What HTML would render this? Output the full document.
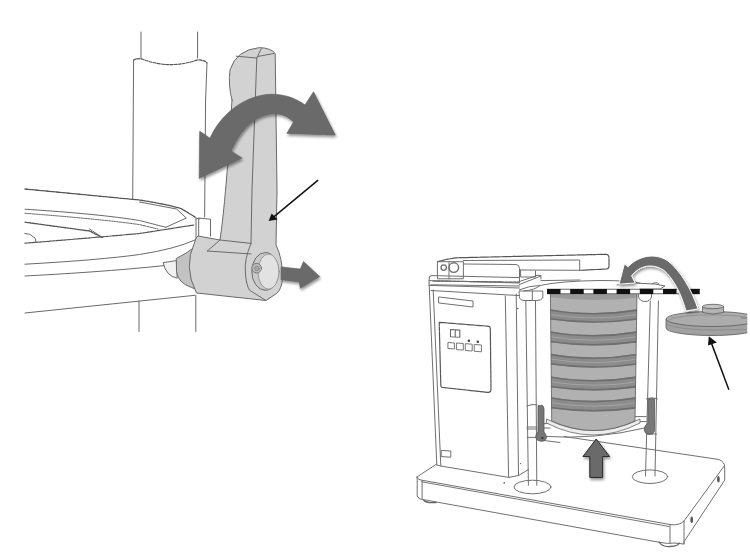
<!DOCTYPE html>
<html><head><meta charset="utf-8">
<style>
html,body{margin:0;padding:0;background:#fff;width:750px;height:557px;overflow:hidden;font-family:"Liberation Sans",sans-serif;}
svg{display:block}
</style></head><body>
<svg width="750" height="557" viewBox="0 0 750 557">
<defs>
<filter id="sh" x="-20%" y="-20%" width="150%" height="150%"><feGaussianBlur in="SourceAlpha" stdDeviation="1.5"/><feOffset dx="1" dy="1.5"/><feComponentTransfer><feFuncA type="linear" slope="0.45"/></feComponentTransfer><feMerge><feMergeNode/><feMergeNode in="SourceGraphic"/></feMerge></filter>
</defs>
<g fill="none" stroke="#6a6a6a" stroke-width="1" stroke-linejoin="round" stroke-linecap="round">
<!-- ===== LEFT DRAWING ===== -->
<path d="M141 32 V59 M197.6 32 V58"/>
<path d="M133.4 61 Q134 58.5 141 58.6 Q169 70 197.6 59.8 Q206 60.5 207 63" stroke="#555" stroke-width="1.1" stroke-dasharray="3 1.2"/>
<path d="M133.6 60 L132.7 199 M207 63 L205.6 100 L204.6 217"/>
<path d="M139 301 V331.5 M195.8 295.5 V331.5"/>
<path d="M25 189 L139.5 200 Q165 204 181 208.5 L196 217.6" stroke="#555" stroke-width="1.3" stroke-dasharray="2.5 1"/>
<path d="M196 217.6 L196 240 Q195 248 190.6 255"/>
<path d="M139.5 202 L176.6 209 L186.3 218.1 L165.8 227.3"/>
<path d="M25 209.2 Q100 214 139.5 220.5 L165.8 227.3"/>
<path d="M25 213.3 Q100 219 139.5 224.6 L158 229" stroke-dasharray="2.5 1"/>
<path d="M25 222.2 L89.5 231 L102.4 237.5" stroke="#555" stroke-width="1.3" stroke-dasharray="2.5 1"/>
<path d="M89.5 229 L100 236"/>
<path d="M25 243.2 Q90 238 139.5 233.5 L193.8 225" stroke="#555" stroke-width="1.2" stroke-dasharray="2.5 1"/>
<path d="M25 264.2 Q100 260 139.5 254.5 Q175 249 195 240"/>
<path d="M25 276 Q120 271 182 263.6"/>
<path d="M25 313 L195 295.3"/>
<path d="M24.8 233.5 L29.7 234.3 L35.3 238.3 L36 242.4"/>
<path d="M196 219 L199 218.1 L210.5 219.2 L210.5 236 M198.7 219.5 V237 M199 218.1 L199 219.5"/>
<!-- lever -->
<path fill="#f2f2f2" d="M163.2 263 Q166 276 177.2 278.2 L176.6 261 Z"/>
<path fill="#c2c2c2" d="M176.6 258.3 Q186 254 196 246 L198 290 Q194 288.5 191.5 287.5 Q178 283 176.6 272 Z"/>
<path fill="#d2d2d2" d="M232 100 Q228 85 230 70 Q236 50 259.5 47.6 Q271 48 275.2 53.5 L277 190 L276 245 Q282.5 258 282.6 277 Q282 289 276.6 293.5 L265.9 300.5 L196.5 293 Q183 267 194.7 242 Q196 237 198 236 L220 240 Q226 200 232 100 Z"/>
<path d="M236.2 56.2 L256.8 58 L261.3 48.5 M257.5 56.5 L274 53.5 M256.8 58 L252 190 L251 243 M220 240 L251 243.4 M207.4 251 L220 240 M207.4 251 L251 254"/>
<path d="M251 243.5 Q244 260 245.4 272 Q246 285 249.7 290.3 L265.9 300.5"/>
<ellipse cx="265.3" cy="271.4" rx="13.5" ry="18.9" fill="#c9c9c9"/>
<ellipse cx="268.5" cy="271.6" rx="10.5" ry="17.6" fill="#e2e2e2" stroke="#999"/>
<circle cx="256.7" cy="268.2" r="4.8" fill="#bdbdbd" stroke="#777"/>
<circle cx="256.9" cy="268.4" r="2.2" fill="#aaa" stroke="#888"/>
</g>
<!-- double arrow -->
<path filter="url(#sh)" fill="#6b6b6b" stroke="#5e5e5e" stroke-width="0.6" d="M199.7 131.3 L210 138.3 C226 102 270 80 305 105 L313.5 91.8 L335.3 135 L286.8 133.4 L293.5 122 C281 108 250 108 231 151 L242 158 L199.2 178.3 Z"/>
<!-- small arrow right -->
<path filter="url(#sh)" fill="#6b6b6b" stroke="#5e5e5e" stroke-width="0.6" d="M281.1 266.9 L300.3 269.1 L303.5 261.6 L319.6 276.5 L300.3 288.3 L299.3 281.9 L281.1 279.7 Z"/>
<!-- black pointer -->
<path d="M318.1 180.2 L272 218.3" stroke="#111" stroke-width="1.5"/>
<path d="M268.6 221.1 L271.6 213.6 L277.6 219.6 Z" fill="#111"/>

<!-- ===== RIGHT DRAWING ===== -->
<g fill="none" stroke="#707070" stroke-width="1" stroke-linejoin="round" stroke-linecap="round">
<!-- base -->
<path d="M416.7 477.1 L436 464.5 M417.2 477.5 L417.2 496 Q418.5 499.5 422.6 499.5 L661 542.6 Q668 544 674 543 L684 544 L684 541.7 L724.7 480.2 L724.7 467 Q724.7 462 719 459.5 L564 436.5"/>
<path d="M416.7 477.1 Q418 480 421.7 480.2 L670 524.5 Q679 526 684 521 L724.7 465.3"/>
<path d="M421.7 481.8 L560 506.8 L669 526.5" stroke="#777"/>
<path d="M422.1 480.2 V498.6 M670 525 V543 M684 521 V544 M560 442.5 L540 440"/>
<path d="M423.5 500 Q426 503.5 436 502.5 M659 542 Q662 547 670 546.5 Q679 546 679 543" stroke="#666" stroke-width="1.3"/>
<ellipse cx="718.4" cy="479.3" rx="1.3" ry="3.2" fill="#555" stroke="none"/>
<ellipse cx="691.7" cy="519.8" rx="1.3" ry="3.2" fill="#555" stroke="none"/>
<!-- housing -->
<path d="M429.1 283 L436.8 465 M433.2 290 L440.8 466 M505.3 296 L508.6 477.4 M516.2 294 L518.5 475.5"/>
<path d="M436.8 465 L440.8 466 L508.6 477.4 L518.5 475.5 L528.4 469.6"/>
<path d="M429.3 277.2 Q429.5 275.6 432 275.6 L519.5 277.6 M429.3 277.2 L429.1 283"/>
<path d="M433 281 L519.5 282.2" stroke="#555" stroke-width="1.2" stroke-dasharray="3 1"/>
<path d="M431 284.8 L519.5 286 M431 290.5 L519.4 295.6"/>
<path d="M540.9 280.6 L580 280 M539.8 285.5 Q560 281 600 280.5 Q630 280.5 640 283"/>
<path d="M439 297 L473 301 L473 307 L439 303 Z"/>
<path d="M439.2 322.3 L489 326.3 Q490.3 327 490.3 329 L491 389.5 Q491 392.4 488 392.4 L442.5 387.5 Q440.8 387.2 440.8 385 Z" stroke="#555" stroke-width="1.2" stroke-dasharray="4 0.7"/>
<path d="M448.3 342.5 L454.4 343 L454.4 349 L448.3 348.5 Z M456.8 343 L463.3 343.5 L463.3 350.1 L456.8 349.6 Z M465.7 343.7 L472.2 344.2 L472.2 351 L465.7 350.5 Z M474.6 344.5 L481.4 345 L481.4 351.8 L474.6 351.3 Z" stroke="#777"/>
<path d="M450.5 329.5 L455.2 329.8 L455.2 337 L450.5 336.7 Z M455.2 329.8 L459.8 330.1 L459.8 337.3 L455.2 337" stroke="#666" stroke-width="1.1"/>
<circle cx="468.9" cy="340.8" r="1.3" fill="#444" stroke="none"/><circle cx="477.8" cy="341.7" r="1.3" fill="#444" stroke="none"/>
<path d="M441.6 450.4 L450.8 451 L450.8 457.2 L441.6 456.6 Z"/>
<circle cx="517.8" cy="308.5" r="0.8" fill="#555" stroke="none"/><circle cx="520.5" cy="463.6" r="0.7" fill="#555" stroke="none"/><circle cx="504.2" cy="482.9" r="0.8" fill="#555" stroke="none"/>
<!-- top lever arm -->
<path d="M455.9 257.8 L606 254.3 Q609 254.6 609 258 L609 266.3 Q609 269 606 269 L579.7 270.3 M437.8 261.7 L446 259.5 L455.9 257.8" stroke="#555" stroke-width="1.2" stroke-dasharray="3 0.8"/>
<path d="M463.4 260.5 L579.7 260 V270.3 M520.6 270 L579.7 270.3"/>
<path d="M437.8 261.7 L463.4 261.7 L463.4 278.8 L437.8 278.8 Z M449 262 V278.8"/>
<circle cx="443.7" cy="267.6" r="2.7" stroke-width="1.3"/><circle cx="453.8" cy="267.6" r="4.8" stroke-width="1.4"/>
<path d="M463.4 264 L516 264.5 Q519.5 265 519.5 268.5 L519.5 281.4"/>
<path d="M520.6 270 V277 H535.5 V271 M535.5 275.4 H540.9 V279.1"/>
<!-- linkage + caps -->
<path d="M519.5 284.5 L540.9 276 M519.5 281.5 L537 275.5 M519.4 289.8 Q530 285.5 540 285.5 Q535 290 524 291"/>
<path d="M519.4 291 L542.8 291 L542.8 298 Q541 300.5 537 300.5 L524 300.5 Q519.4 300 519.4 297 Z M532.3 291 V300.5"/>
<path d="M429 280.6 L519.4 283 M429 285.4 L519.4 288"/>
<path d="M638.5 292 L638.5 297 Q640 301.5 645 301.5 Q650 301.5 651.5 297 L651.5 292"/>
<path d="M617 285 L634 283 L655 284 L665 286 L660 289 L640 289"/>
<path d="M652 284 Q655.6 281 659 284"/>
<!-- pillars -->
<ellipse cx="532.5" cy="487" rx="18.5" ry="6.8" fill="#fff"/>
<ellipse cx="650" cy="476.7" rx="17.7" ry="6.8" fill="#fff"/>
<path d="M525.8 300.5 L528.4 485.3 M535.5 300.5 L536.8 485.3"/>
<path d="M650.3 301 L645.5 476 M658.4 301 L655 476"/>
<path d="M527 406 Q532 403.5 537 404.8 M527 427 H537 M527 429 H537 M527.2 437.4 H537.2"/>
<path d="M646.4 398.8 Q652 396.5 657.4 398.8 M647 434 H656.5"/>
<!-- crossbars -->
<path d="M544 423.6 L550.5 423.6 M544 428 L550 428 M634.5 416.6 L646.2 416.6 M634.5 421.6 L646.2 421.6 M544.4 436.4 Q595 440 646.5 427.6"/>
</g>
<!-- clamps -->
<path d="M538 405.8 L542 405.3 Q544 406 544 409 L544 432 Q546.4 434 546.4 437.5 Q546 441.3 541.5 441.3 Q535.5 441 535.8 436 Q536.5 433 538 432 Z" fill="#767676" stroke="#555" stroke-width="0.8"/>
<path d="M648.2 398.8 L654.6 398.8 L654.6 428 Q655.1 434.4 650 434.4 Q644.3 434.4 644.3 429 Q644.5 425 647.8 423.5 L648.2 401 Z" fill="#787878" stroke="#555" stroke-width="0.8"/>
<circle cx="542.4" cy="437.9" r="1" fill="#222"/>
<!-- sieve stack -->
<defs><clipPath id="sclip"><path d="M550.4 293.5 L637 293.5 L635 421 Q594 440 551.7 421 Z"/></clipPath></defs>
<path fill="#ececec" stroke="#666" stroke-width="0.8" d="M546.5 419 Q593 442 640 419 L640 423 Q593 447 546.5 423 Z"/>
<path fill="#b1b1b1" stroke="none" d="M550.4 293.5 L637 293.5 L635 421 Q594 440 551.7 421 Z"/>
<g clip-path="url(#sclip)">
<path fill="#9a9a9a" stroke="none" d="M548 294 L640 294 L640 297 Q594 303 548 297 Z"/>
<g fill="#8c8c8c" stroke="none">
<path d="M548 308.8 Q594 317.2 640 308.8 L640 319.3 Q594 326.3 548 319.3 Z"/>
<path d="M548 330.8 Q594 339.2 640 330.8 L640 342 Q594 349.0 548 342 Z"/>
<path d="M548 353.2 Q594 361.6 640 353.2 L640 364.3 Q594 371.3 548 364.3 Z"/>
<path d="M548 375.8 Q594 384.2 640 375.8 L640 387 Q594 394.0 548 387 Z"/>
<path d="M548 396.6 Q594 405.0 640 396.6 L640 408 Q594 415.0 548 408 Z"/>
</g>
<g fill="none" stroke="#6e6e6e" stroke-width="1.6">
<path d="M548 309.6 Q594 318.0 640 309.6"/>
<path d="M548 318.5 Q594 325.5 640 318.5"/>
<path d="M548 331.6 Q594 340.0 640 331.6"/>
<path d="M548 341.2 Q594 348.2 640 341.2"/>
<path d="M548 354.0 Q594 362.4 640 354.0"/>
<path d="M548 363.5 Q594 370.5 640 363.5"/>
<path d="M548 376.6 Q594 385.0 640 376.6"/>
<path d="M548 386.2 Q594 393.2 640 386.2"/>
<path d="M548 397.4 Q594 405.8 640 397.4"/>
<path d="M548 407.2 Q594 414.2 640 407.2"/>
</g>
<g fill="none" stroke="#a4a4a4" stroke-width="1">
<path d="M548 314.1 Q594 321.8 640 314.1"/>
<path d="M548 336.4 Q594 344.1 640 336.4"/>
<path d="M548 358.8 Q594 366.4 640 358.8"/>
<path d="M548 381.4 Q594 389.1 640 381.4"/>
<path d="M548 402.3 Q594 410.0 640 402.3"/>
</g>
</g>
<path fill="none" stroke="#5a5a5a" stroke-width="0.8" d="M550.4 293.5 L637 293.5 L635 421 Q594 440 551.7 421 Z"/>
<!-- dashed black line -->
<path d="M547 291.5 H700" stroke="#666" stroke-width="5.4"/>
<path d="M547 291.5 H700" stroke="#fff" stroke-width="3.6"/>
<path d="M547 291.5 H700" stroke="#111" stroke-width="4.8" stroke-dasharray="13.5 9.7"/>
<!-- lid -->
<defs><clipPath id="lidclip"><rect x="600" y="290" width="147.2" height="60"/></clipPath></defs>
<g stroke="#5a5a5a" stroke-width="0.8" clip-path="url(#lidclip)">
<path fill="#a1a1a1" d="M666 319 L666 328 A46 7.5 0 0 0 758 328 L758 319 Z"/>
<ellipse cx="712" cy="319" rx="46" ry="7.5" fill="#acacac"/>
<path d="M669 320.5 A43 5.5 0 0 1 755 320.5" fill="none" stroke="#8a8a8a"/>
<path d="M667 324.5 Q678 329.5 712 330 L747 329.5" fill="none" stroke="#888"/>
</g>
<g stroke="#5a5a5a" stroke-width="0.8">
<path fill="#b3b3b3" d="M702.5 306.5 L702.5 312.5 Q713 315.5 723.5 312.5 L723.5 306.5 Z"/>
<ellipse cx="713" cy="306.5" rx="10.5" ry="2.2" fill="#c4c4c4"/>
<path d="M741 318 L747 318" stroke="#777"/>
</g>
<!-- curved arrow -->
<path filter="url(#sh)" fill="#6b6b6b" stroke="#fff" stroke-width="1" d="M624.4 263.8 L628 266.8 C638 256 655 252 668 261 C680 270 692 290 698 309 L686 311 C681 293 673 278 664 270.5 C653 263 640 265 631.6 275.8 L635.2 283 L619 284.2 Z"/>
<!-- up arrow -->
<path filter="url(#sh)" fill="#6b6b6b" stroke="#2a2a2a" stroke-width="1" d="M596.2 439 L609.6 456.5 L602.6 456.5 L602.6 477.4 L589.8 477.4 L589.8 456.5 L582.9 456.5 Z"/>
<!-- black pointer right -->
<path d="M728.9 389.7 L711 342" stroke="#111" stroke-width="1.5"/>
<path d="M708.8 336.3 L708 345.6 L716.8 342.6 Z" fill="#111"/>
</svg>
</body></html>
